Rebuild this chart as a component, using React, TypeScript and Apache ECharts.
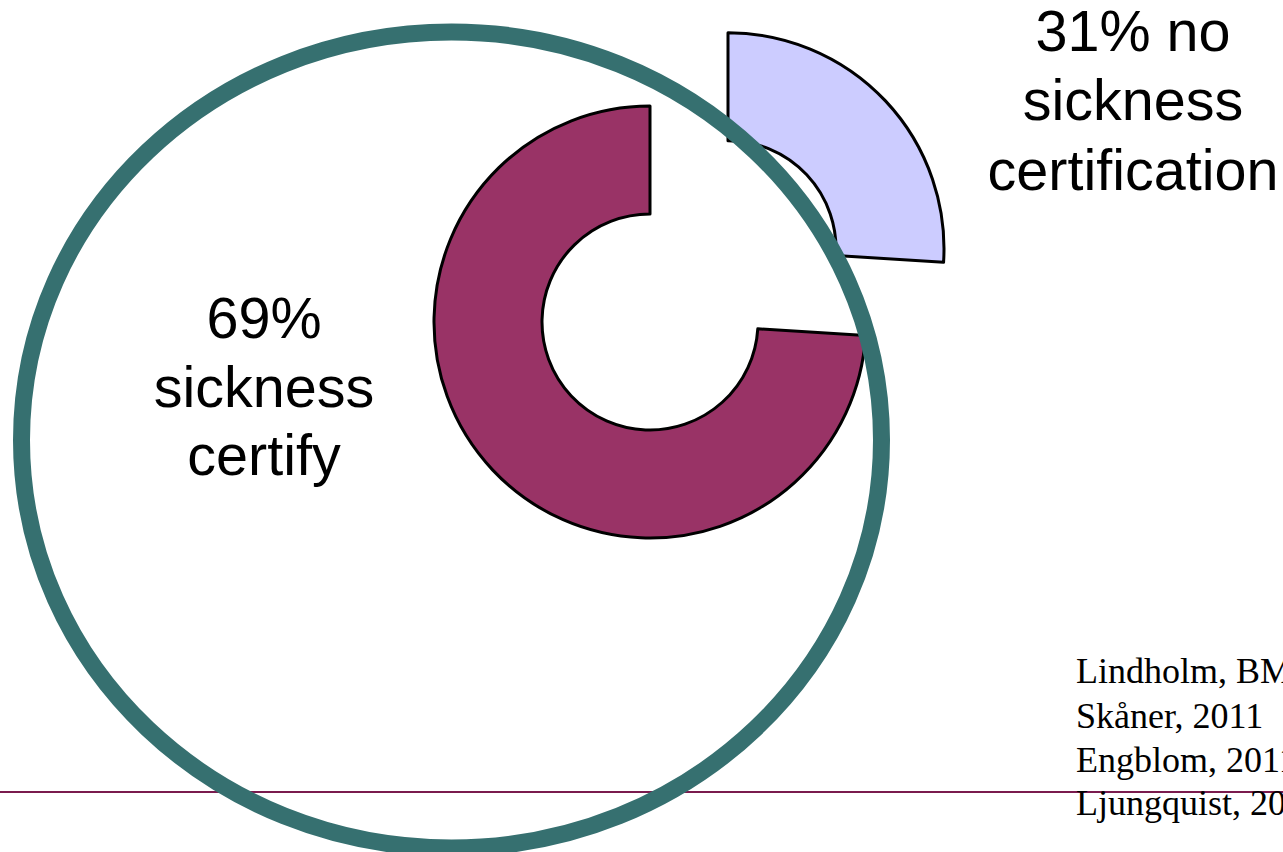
import React, { useEffect, useRef } from "react";
import * as echarts from "echarts";

const categories = ["no sickness certification", "sickness certify"];
const shareValues = [26, 74];
const sliceColors = ["#CCCCFF", "#993366"];
const rightLabelLines = ["31% no", "sickness", "certification"];
const leftLabelLines = ["69%", "sickness", "certify"];
const citations = ["Lindholm, BMC 2010", "Skåner, 2011", "Engblom, 2011", "Ljungquist, 2015"];

export default function App() {
  const ref = useRef<HTMLDivElement>(null);
  useEffect(() => {
    if (!ref.current) return;
    const chart = echarts.init(ref.current, undefined, { renderer: "svg" });
    const sans = "57.5px 'Liberation Sans', Arial, sans-serif";
    const serif = "36px 'Liberation Serif', 'Times New Roman', serif";
    const rightBase = [51, 120, 190];
    const leftBase = [338, 407, 475];
    const citeBase = [683, 728, 772, 815];
    const graphics: any[] = [];
    graphics.push({
      type: "line",
      z: 1,
      shape: { x1: 0, y1: 792, x2: 1283, y2: 792 },
      style: { stroke: "#7A1B4E", lineWidth: 2 },
    });
    graphics.push({
      type: "ellipse",
      z: 100,
      shape: { cx: 451.5, cy: 440, rx: 430, ry: 408 },
      style: { fill: "none", stroke: "#367070", lineWidth: 17 },
    });
    rightLabelLines.forEach((t, i) => {
      graphics.push({
        type: "text",
        z: 110,
        x: 1133,
        y: rightBase[i] - 20,
        style: { text: t, font: sans, fill: "#000", textAlign: "center", textVerticalAlign: "middle" },
      });
    });
    leftLabelLines.forEach((t, i) => {
      graphics.push({
        type: "text",
        z: 110,
        x: 264,
        y: leftBase[i] - 20,
        style: { text: t, font: sans, fill: "#000", textAlign: "center", textVerticalAlign: "middle" },
      });
    });
    citations.forEach((t, i) => {
      graphics.push({
        type: "text",
        z: 110,
        x: 1076,
        y: citeBase[i] - 12,
        style: { text: t, font: serif, fill: "#000", textAlign: "left", textVerticalAlign: "middle" },
      });
    });
    chart.setOption({
      animation: false,
      backgroundColor: "#ffffff",
      graphic: { elements: graphics },
      series: [
        {
          type: "pie",
          center: [650, 322],
          radius: [108, 216],
          startAngle: 90,
          clockwise: true,
          selectedMode: "single",
          selectedOffset: 107,
          avoidLabelOverlap: false,
          label: { show: false },
          labelLine: { show: false },
          emphasis: { disabled: true },
          itemStyle: { borderColor: "#000000", borderWidth: 3 },
          data: categories.map((c, i) => ({
            name: c,
            value: shareValues[i],
            selected: i === 0,
            itemStyle: { color: sliceColors[i] },
            select: { itemStyle: { color: sliceColors[i], borderColor: "#000000", borderWidth: 3 } },
          })),
        },
      ],
    });
    return () => chart.dispose();
  }, []);
  return (
    <div
      ref={ref}
      style={{ position: "fixed", left: 0, top: 0, width: 1283, height: 852, background: "#fff" }}
    />
  );
}
